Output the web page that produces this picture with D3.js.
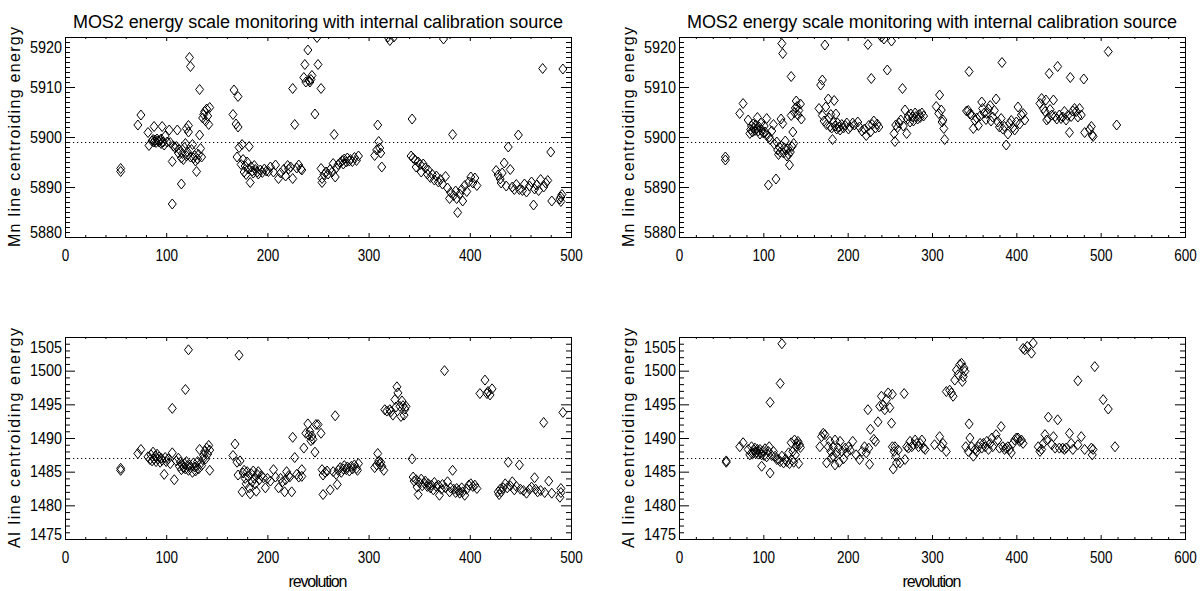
<!DOCTYPE html>
<html>
<head>
<meta charset="utf-8">
<script src="https://cdn.jsdelivr.net/npm/d3@7"></script>
<style>
body{margin:0;background:#fff;}
svg text{font-family:"Liberation Sans",Arial,sans-serif;fill:#000;}
</style>
</head>
<body>
<script>
// tick values
var revTicksA=[0,100,200,300,400,500];
var revTicksB=[0,100,200,300,400,500,600];
var mnTicks=[5880,5890,5900,5910,5920];
var alTicks=[1475,1480,1485,1490,1495,1500,1505];
var mnRef=5899, alRef=1487;
var titleText="MOS2 energy scale monitoring with internal calibration source";

// [revolution, Mn line energy] left panel
var mnLeft=[[55,5893.7],[55,5893.1],
[72,5902.4],[75,5904.4],[82,5900.9],[83,5898.3],[86,5899.2],[87,5899.5],[88,5902.1],[88,5899.0],[89,5899.4],[90,5898.9],[91,5899.6],[92,5899.2],[93,5899.0],[94,5899.3],[95,5899.6],[95,5898.7],[96,5902.1],[97,5899.0],[98,5898.4],[99,5900.2],[101,5899.0],[103,5901.4],[104,5898.9],[106,5886.6],[106,5895.1],[107,5898.2],[109,5897.8],[110,5898.1],[111,5901.4],[112,5896.8],[113,5897.5],[115,5890.6],[115,5895.8],[116,5896.7],[117,5895.5],[118,5897.9],[119,5898.7],[120,5896.2],[120,5901.7],[121,5897.0],[122,5902.3],[122,5901.0],[123,5915.9],[124,5914.1],[124,5896.0],[125,5897.5],[126,5898.5],[127,5895.8],[128,5896.3],[129,5895.2],[130,5893.1],[131,5895.6],[132,5896.5],[133,5909.5],[133,5900.4],[134,5897.7],[135,5896.0],[136,5903.8],[137,5904.5],[138,5905.1],[139,5903.2],[140,5905.6],[141,5904.2],[142,5902.5],[143,5905.9],
[166,5904.5],[167,5909.4],[169,5902.6],[171,5908.1],[171,5902.0],[172,5897.9],[170,5896.0],[174,5894.5],[175,5898.5],[176,5895.5],[177,5893.0],[178,5894.2],[179,5892.5],[180,5895.0],[181,5893.6],[182,5898.1],[183,5890.9],[184,5894.0],[185,5893.2],[186,5892.8],[187,5894.3],[188,5893.5],[190,5893.0],[191,5892.6],[193,5893.4],[195,5892.9],[197,5893.6],[199,5893.2],[201,5893.1],[203,5894.0],[206,5893.0],[208,5894.4],[211,5891.7],[213,5892.8],[216,5893.5],[218,5892.2],[220,5894.3],[221,5893.6],[223,5894.0],[225,5891.7],[225,5909.7],[227,5902.5],[229,5893.8],[231,5894.4],[233,5893.6],[234,5893.4],
[236,5911.9],[237,5914.5],[238,5911.0],[240,5917.4],[241,5911.3],[242,5911.0],[243,5911.5],[244,5912.3],[247,5904.6],[249,5919.9],[250,5914.5],[253,5909.7],
[253,5893.7],[254,5891.7],[254,5890.9],[256,5892.5],[258,5893.0],[260,5892.6],[262,5893.5],[264,5893.0],[265,5894.7],[266,5900.5],[267,5892.0],[268,5893.8],[270,5894.5],[272,5894.9],[274,5895.3],[275,5894.6],[276,5895.6],[278,5895.0],[279,5895.8],[281,5895.2],[282,5895.5],[284,5895.1],[286,5895.9],[288,5895.3],[290,5896.2],
[306,5896.3],[308,5897.4],[309,5902.4],[310,5899.1],[311,5897.8],[312,5896.8],[313,5894.0],[319,5920.0],[321,5919.3],[325,5920.0],
[343,5903.6],[342,5896.2],[344,5895.8],[346,5895.4],[347,5894.0],[349,5895.0],[351,5894.5],[352,5893.0],[354,5894.6],[356,5893.8],[358,5892.6],[359,5893.4],[361,5891.9],[363,5892.5],[365,5891.4],[367,5892.2],[369,5891.0],[371,5891.5],[373,5890.6],[374,5919.6],[376,5892.1],[378,5889.8],[380,5887.7],[381,5888.9],[383,5900.5],[384,5888.3],[386,5889.2],[387,5887.7],[388,5884.9],[390,5888.6],[392,5889.5],[393,5887.2],[395,5890.3],[397,5889.1],[399,5891.0],[401,5892.0],[403,5890.8],[405,5891.8],[407,5890.3],
[426,5893.3],[428,5892.4],[430,5891.6],[431,5890.8],[432,5892.8],[434,5894.8],[436,5890.2],[438,5898.0],[440,5893.5],[442,5890.0],[444,5889.5],[446,5890.5],[448,5900.4],[449,5889.5],[452,5889.3],[454,5890.6],[456,5889.0],[459,5890.2],[461,5891.0],[463,5886.4],[464,5889.6],[466,5890.4],[468,5889.3],[470,5891.5],[472,5913.7],[473,5890.0],[475,5890.8],[477,5891.3],[480,5897.0],[481,5887.2],[489,5887.6],[490,5888.0],[490,5887.1],[491,5888.5],[492,5913.6]];

// [revolution, Al line energy] left panel
var alLeft=[[55,1485.5],[55,1485.2],
[72,1487.7],[75,1488.3],[82,1487.2],[84,1486.8],[85,1487.5],[86,1486.6],[87,1487.9],[88,1486.9],[89,1487.3],[90,1486.5],[91,1487.6],[92,1486.9],[93,1487.2],[94,1486.4],[95,1487.0],[96,1486.7],[98,1484.6],[99,1487.1],[100,1486.5],[102,1486.9],[104,1486.2],[106,1487.8],[106,1494.4],[108,1483.8],[110,1486.6],[112,1487.0],[113,1485.8],[114,1486.4],[115,1485.3],[116,1486.0],[117,1485.6],[118,1486.2],[119,1497.2],[119,1485.4],[120,1486.5],[121,1485.9],[122,1503.1],[122,1485.2],[123,1486.0],[124,1485.6],[126,1484.9],[127,1486.3],[128,1485.7],[129,1485.1],[130,1485.8],[131,1486.5],[132,1485.4],[133,1488.3],[134,1486.2],[135,1485.9],[136,1486.8],[137,1487.4],[138,1488.0],[139,1486.9],[140,1488.5],[141,1487.6],[142,1488.9],[143,1485.2],[143,1488.2],
[166,1487.4],[168,1489.1],[170,1486.4],[171,1484.5],[172,1502.3],[173,1486.6],[175,1482.0],[176,1484.8],[177,1485.2],[178,1484.0],[179,1483.2],[180,1485.0],[181,1484.3],[182,1482.6],[183,1481.7],[184,1484.7],[185,1483.5],[186,1485.1],[187,1484.0],[188,1483.2],[189,1482.1],[190,1484.6],[191,1485.0],[192,1483.8],[194,1484.4],[196,1484.1],[198,1482.6],[200,1484.0],[203,1483.6],[206,1485.3],[208,1484.2],[211,1482.6],[213,1484.0],[215,1483.5],[217,1482.0],[218,1483.8],[219,1485.0],[221,1484.4],[222,1484.2],[224,1482.0],[225,1490.1],[227,1487.1],[229,1484.6],[231,1484.2],[234,1485.3],[234,1484.3],[236,1488.5],[238,1490.7],[240,1492.1],[241,1490.4],[242,1491.0],[243,1489.6],[244,1490.3],[245,1489.8],[247,1487.9],[248,1492.0],[250,1492.0],[253,1490.7],
[254,1485.3],[255,1484.5],[255,1481.6],[257,1484.9],[259,1485.1],[262,1482.3],[265,1485.0],[267,1493.3],[268,1484.6],[269,1483.1],[270,1485.2],[272,1485.6],[273,1484.9],[275,1485.4],[276,1485.9],[278,1485.3],[279,1485.7],[281,1485.1],[283,1485.8],[284,1485.4],[286,1486.0],[288,1485.5],[289,1485.2],[290,1486.2],
[306,1485.6],[308,1486.0],[309,1487.7],[310,1486.6],[311,1486.1],[312,1486.4],[313,1485.8],[315,1485.2],
[316,1494.2],[318,1494.0],[321,1494.2],[322,1493.9],[324,1493.4],[326,1495.7],[327,1494.6],[328,1497.6],[329,1496.7],[331,1494.7],[332,1493.2],[333,1495.5],[334,1494.8],[335,1493.4],[336,1494.3],[337,1494.7],
[343,1486.9],[344,1484.2],[345,1483.6],[347,1483.8],[348,1482.7],[349,1481.6],[350,1483.4],[352,1483.9],[353,1482.9],[355,1483.3],[356,1483.6],[358,1482.8],[359,1483.2],[361,1482.6],[362,1483.0],[364,1482.3],[365,1483.4],[367,1482.8],[369,1483.0],[370,1481.5],[372,1482.4],[373,1483.1],[375,1500.0],[376,1482.6],[378,1483.5],[380,1482.0],[381,1482.6],[383,1485.2],[384,1482.4],[386,1481.9],[387,1482.5],[389,1482.2],[390,1481.8],[392,1482.6],[393,1482.0],[395,1481.5],[397,1482.4],[399,1483.0],[401,1483.2],[403,1482.8],[405,1483.0],[407,1482.5],[410,1496.6],[415,1498.6],[417,1496.6],[418,1496.9],[420,1496.4],[422,1497.3],
[428,1482.0],[429,1481.6],[430,1482.4],[431,1482.0],[433,1482.6],[435,1483.2],[437,1482.6],[438,1486.4],[440,1482.9],[442,1483.5],[444,1482.3],[446,1482.8],[449,1486.0],[450,1482.4],[453,1482.2],[456,1481.8],[459,1482.4],[461,1482.7],[464,1484.1],[465,1482.4],[467,1482.0],[470,1482.2],[473,1492.3],[474,1481.9],[478,1483.6],[481,1481.8],[489,1481.2],[490,1481.9],[490,1482.5],[492,1493.8]];

// [revolution, Mn line energy] right panel
var mnRight=[[55,5896.0],[55,5895.4],
[72,5904.7],[76,5906.7],[82,5903.4],[84,5900.7],[85,5901.5],[86,5902.2],[87,5901.0],[88,5902.6],[89,5901.8],[90,5901.3],[91,5902.4],[92,5901.6],[93,5903.9],[94,5901.2],[95,5902.0],[96,5900.6],[97,5902.8],[98,5901.4],[100,5900.8],[101,5902.2],[102,5901.0],[104,5903.7],[104,5900.3],[106,5890.4],[107,5900.0],[108,5899.5],[110,5901.2],[112,5902.5],[113,5898.6],[115,5891.6],[116,5899.0],[117,5897.4],[118,5896.5],[119,5898.0],[120,5897.0],[121,5903.6],[122,5918.7],[123,5916.7],[123,5902.7],[124,5896.8],[125,5897.8],[126,5899.2],[127,5897.4],[128,5896.2],[129,5897.6],[130,5896.5],[131,5894.4],[132,5897.0],[133,5912.1],[133,5904.3],[134,5898.1],[135,5901.0],[136,5898.7],[137,5904.9],[138,5905.8],[139,5907.2],[140,5906.1],[141,5904.4],[142,5905.3],[144,5906.6],[145,5903.6],
[166,5905.7],[168,5910.4],[170,5911.4],[170,5904.3],[172,5903.2],[173,5918.4],[174,5906.0],[175,5902.5],[177,5907.6],[178,5903.8],[179,5902.1],[180,5904.5],[181,5901.8],[182,5899.5],[183,5902.9],[184,5907.3],[185,5902.2],[186,5904.6],[187,5901.6],[188,5902.8],[190,5902.0],[191,5901.4],[193,5902.5],[195,5901.8],[197,5902.3],[199,5902.8],[201,5901.6],[203,5902.0],[206,5902.8],[208,5902.4],[212,5903.0],[214,5902.0],[217,5901.2],[220,5901.6],[222,5900.3],[224,5918.5],[225,5902.3],[227,5901.0],[228,5911.7],[229,5902.5],[231,5903.2],[233,5901.8],[235,5902.6],[237,5902.0],[240,5920.0],[243,5919.6],[247,5913.4],[252,5919.2],
[255,5900.7],[256,5899.1],[257,5902.4],[259,5901.9],[261,5902.8],[263,5903.4],[265,5909.7],[266,5902.2],[268,5905.4],[270,5900.7],[271,5903.6],[272,5904.2],[274,5903.0],[275,5904.6],[277,5904.0],[278,5903.2],[280,5904.8],[281,5904.1],[283,5903.6],[285,5904.5],[286,5903.9],[288,5904.8],[290,5904.2],
[305,5906.1],[308,5904.7],[309,5908.4],[311,5905.4],[312,5903.0],[313,5903.4],[314,5901.7],[315,5899.5],
[341,5905.2],[343,5905.3],[344,5913.1],[345,5904.6],[347,5904.4],[349,5901.7],[351,5903.3],[353,5903.8],[355,5902.3],[357,5904.2],[359,5907.0],[360,5905.7],[362,5904.8],[364,5903.5],[365,5904.7],[367,5905.6],[369,5906.3],[370,5903.2],[372,5904.0],[374,5905.3],[376,5907.6],[378,5903.0],[380,5902.0],[382,5903.7],[383,5914.9],[384,5901.6],[386,5902.1],[388,5898.4],[390,5900.6],[392,5902.7],[394,5903.3],[396,5901.9],[398,5901.4],[400,5903.0],[402,5906.0],[404,5902.6],[406,5904.4],[408,5904.7],[410,5903.4],
[428,5906.7],[430,5907.7],[432,5905.7],[434,5905.1],[435,5907.4],[436,5903.4],[438,5903.7],[439,5912.7],[440,5905.5],[442,5904.4],[444,5907.4],[446,5904.1],[448,5903.6],[449,5914.1],[451,5904.4],[453,5903.7],[455,5904.0],[457,5905.1],[459,5903.4],[461,5904.3],[463,5900.9],[464,5911.9],[465,5904.1],[467,5905.2],[469,5905.7],[471,5905.1],[473,5904.0],[475,5905.7],[477,5904.4],[480,5911.6],[481,5900.9],[487,5901.5],[489,5902.1],[490,5900.4],[491,5900.1],[509,5917.1],[519,5902.4]];

// [revolution, Al line energy] right panel
var alRight=[[56,1486.6],[56,1486.4],
[72,1488.7],[76,1489.3],[82,1488.3],[84,1487.5],[86,1488.7],[87,1487.6],[88,1487.8],[89,1488.2],[90,1488.5],[91,1487.7],[92,1487.9],[93,1488.3],[94,1487.6],[96,1488.3],[97,1487.8],[98,1485.8],[98,1487.5],[100,1488.0],[101,1487.4],[102,1488.4],[104,1487.2],[106,1488.0],[107,1488.7],[108,1484.8],[108,1495.3],[110,1487.4],[112,1488.0],[114,1487.3],[116,1486.8],[118,1486.8],[120,1498.1],[120,1486.5],[122,1504.0],[122,1487.3],[124,1486.3],[126,1486.8],[128,1486.5],[130,1487.8],[131,1486.2],[133,1489.3],[134,1486.7],[135,1488.0],[136,1486.4],[137,1489.7],[138,1487.5],[139,1488.7],[140,1489.1],[141,1489.5],[142,1486.2],[143,1489.0],[144,1488.6],
[167,1488.7],[169,1490.2],[171,1490.7],[173,1490.5],[175,1486.3],[177,1488.7],[179,1489.5],[180,1488.0],[181,1487.1],[183,1487.3],[183,1488.7],[185,1489.7],[185,1486.0],[187,1487.8],[189,1488.5],[190,1486.4],[191,1489.5],[193,1488.0],[195,1486.9],[197,1488.5],[199,1487.8],[201,1488.7],[203,1488.2],[206,1489.5],[210,1487.5],[214,1486.8],[217,1488.0],[220,1488.7],[222,1487.8],[224,1494.2],[225,1488.5],[226,1486.1],[227,1491.3],[231,1489.8],[233,1489.5],[236,1492.4],[238,1494.7],[240,1496.2],[242,1494.9],[244,1494.2],[246,1495.7],[248,1496.7],[250,1494.5],[252,1492.2],[253,1496.5],[253,1488.7],[254,1485.4],[255,1488.0],[256,1488.7],[257,1487.3],[258,1486.3],[260,1488.2],[262,1486.3],[267,1496.6],[268,1486.8],
[270,1488.7],[272,1488.5],[274,1489.5],[276,1488.7],[278,1489.0],[280,1489.7],[282,1489.2],[284,1488.7],[286,1489.2],[288,1489.7],[290,1488.5],[292,1488.3],
[303,1489.0],[309,1490.2],[311,1488.7],[313,1489.2],[317,1488.0],
[317,1496.9],[321,1497.1],[323,1496.7],[325,1496.2],[327,1498.6],[329,1500.1],[331,1499.4],[333,1500.9],[335,1501.1],[336,1498.4],[337,1499.1],[338,1500.4],[339,1499.9],
[340,1488.7],[343,1488.0],[344,1492.1],[345,1490.0],[347,1488.7],[349,1487.3],[351,1488.3],[353,1488.0],[355,1488.7],[357,1489.2],[359,1488.5],[361,1489.2],[363,1488.7],[365,1489.5],[367,1488.3],[369,1489.2],[371,1490.0],[372,1488.7],[376,1490.5],[378,1489.7],[380,1488.5],[382,1491.7],[384,1488.7],[386,1488.3],[388,1488.5],[390,1488.7],[392,1488.3],[394,1487.8],[396,1489.2],[398,1489.7],[400,1490.0],[402,1490.0],[404,1489.5],[406,1489.7],[408,1489.2],
[408,1503.3],[410,1503.1],[413,1503.6],[418,1502.6],[420,1504.1],
[426,1488.7],[428,1488.0],[430,1488.3],[432,1489.2],[434,1490.5],[436,1489.7],[438,1493.1],[442,1489.0],[444,1490.2],[446,1488.5],[449,1492.7],[451,1488.5],[455,1488.5],[457,1488.3],[459,1488.5],[463,1490.7],[465,1489.2],[467,1488.3],[473,1489.0],[473,1498.5],[477,1490.2],[481,1488.3],[489,1488.5],[490,1487.5],[491,1488.3],[493,1500.6],[503,1495.7],[509,1494.3],[517,1488.7]];

var svg=d3.select("body").append("svg")
	.attr("width",1203)
	.attr("height",591);

var panelNo=0;

function drawPanel(p)
{
	panelNo++;
	var x=d3.scaleLinear().domain([0,p.xmax]).range([p.left,p.right]);
	var y=d3.scaleLinear().domain(p.ydom).range([p.bottom,p.top]);
	var g=svg.append("g");

	// minor ticks
	var xMinor=d3.range(0,p.xmax+1,20).filter(function(v){return v%100!=0;});
	var yMinor=d3.range(p.ydom[0],p.ydom[1]+0.01,1).filter(function(v){return p.yticks.indexOf(v)<0;});

	function ax(fn,scale,vals,size,pos,labels,pad)
	{
		var a=fn(scale).tickValues(vals).tickSize(size).tickSizeOuter(0).tickPadding(pad||0);
		a.tickFormat(labels?d3.format("d"):"");
		var h=g.append("g").attr("transform",pos).call(a);
		h.select(".domain").remove();
		h.attr("font-family",null).attr("font-size",null);
		h.selectAll("line").attr("stroke","#000");
		return h;
	}

	var xb=ax(d3.axisBottom,x,p.xticks,-4,"translate(0,"+p.bottom+")",true,13);
	xb.selectAll("text").style("font-size","16px")
		.attr("textLength",function(d){return String(d).length*7.5;})
		.attr("lengthAdjust","spacingAndGlyphs");
	ax(d3.axisBottom,x,xMinor,-2,"translate(0,"+p.bottom+")",false);
	ax(d3.axisTop,x,p.xticks,-4,"translate(0,"+p.top+")",false);
	ax(d3.axisTop,x,xMinor,-2,"translate(0,"+p.top+")",false);

	// end labels sit inside the axis span, as in the original
	var yl=ax(d3.axisLeft,y,p.yticks,-10,"translate("+p.left+",0)",true,3);
	yl.selectAll("text").style("font-size","16px")
		.attr("textLength",function(d){return String(d).length*8;})
		.attr("lengthAdjust","spacingAndGlyphs")
		.attr("dy",function(d){
			if(d==p.ydom[1]) return "0.95em";
			if(d==p.ydom[0]) return "0";
			return "0.32em";
		});
	ax(d3.axisLeft,y,yMinor,-5,"translate("+p.left+",0)",false);
	ax(d3.axisRight,y,p.yticks,-10,"translate("+p.right+",0)",false);
	ax(d3.axisRight,y,yMinor,-5,"translate("+p.right+",0)",false);

	// frame
	g.append("rect")
		.attr("x",p.left+0.5).attr("y",p.top+0.5)
		.attr("width",p.right-p.left).attr("height",p.bottom-p.top)
		.attr("fill","none").attr("stroke","#000");

	// reference level
	g.append("line")
		.attr("x1",p.left).attr("x2",p.right)
		.attr("y1",Math.round(y(p.ref))+0.5).attr("y2",Math.round(y(p.ref))+0.5)
		.attr("stroke","#000").attr("stroke-dasharray","1.2,2.8");

	// points, clipped to the plot box
	var cid="clip"+panelNo;
	svg.append("clipPath").attr("id",cid).append("rect")
		.attr("x",p.left).attr("y",p.top)
		.attr("width",p.right-p.left+1).attr("height",p.bottom-p.top+1);
	g.append("g").attr("clip-path","url(#"+cid+")")
		.selectAll("path").data(p.data).enter().append("path")
		.attr("d","M0,-5L4,0L0,5L-4,0Z")
		.attr("transform",function(d){return "translate("+x(d[0])+","+y(d[1])+")";})
		.attr("fill","none").attr("stroke","#000").attr("stroke-width",1);

	// y title
	var yc=(p.top+p.bottom)/2;
	g.append("text")
		.attr("transform","translate("+(p.left-45)+","+yc+") rotate(-90)")
		.attr("text-anchor","middle")
		.style("font-size","16px")
		.attr("textLength",220)
		.text(p.ytitle);

	var xc=(p.left+p.right)/2;
	if(p.title)
		g.append("text").attr("x",xc).attr("y",28)
			.attr("text-anchor","middle").style("font-size","18px")
			.attr("textLength",490)
			.text(p.title);
	if(p.xtitle)
		g.append("text").attr("x",xc).attr("y",587)
			.attr("text-anchor","middle").style("font-size","16px")
			.attr("textLength",59)
			.text(p.xtitle);
}

drawPanel({left:65,right:571,top:37,bottom:237,xmax:500,xticks:revTicksA,ydom:[5880,5920],yticks:mnTicks,ref:mnRef,data:mnLeft,ytitle:"Mn line centroiding energy",title:titleText});
drawPanel({left:679,right:1185,top:37,bottom:237,xmax:600,xticks:revTicksB,ydom:[5880,5920],yticks:mnTicks,ref:mnRef,data:mnRight,ytitle:"Mn line centroiding energy",title:titleText});
drawPanel({left:65,right:571,top:337,bottom:539,xmax:500,xticks:revTicksA,ydom:[1475,1505],yticks:alTicks,ref:alRef,data:alLeft,ytitle:"Al line centroiding energy",xtitle:"revolution"});
drawPanel({left:679,right:1185,top:337,bottom:539,xmax:600,xticks:revTicksB,ydom:[1475,1505],yticks:alTicks,ref:alRef,data:alRight,ytitle:"Al line centroiding energy",xtitle:"revolution"});
</script>
</body>
</html>
